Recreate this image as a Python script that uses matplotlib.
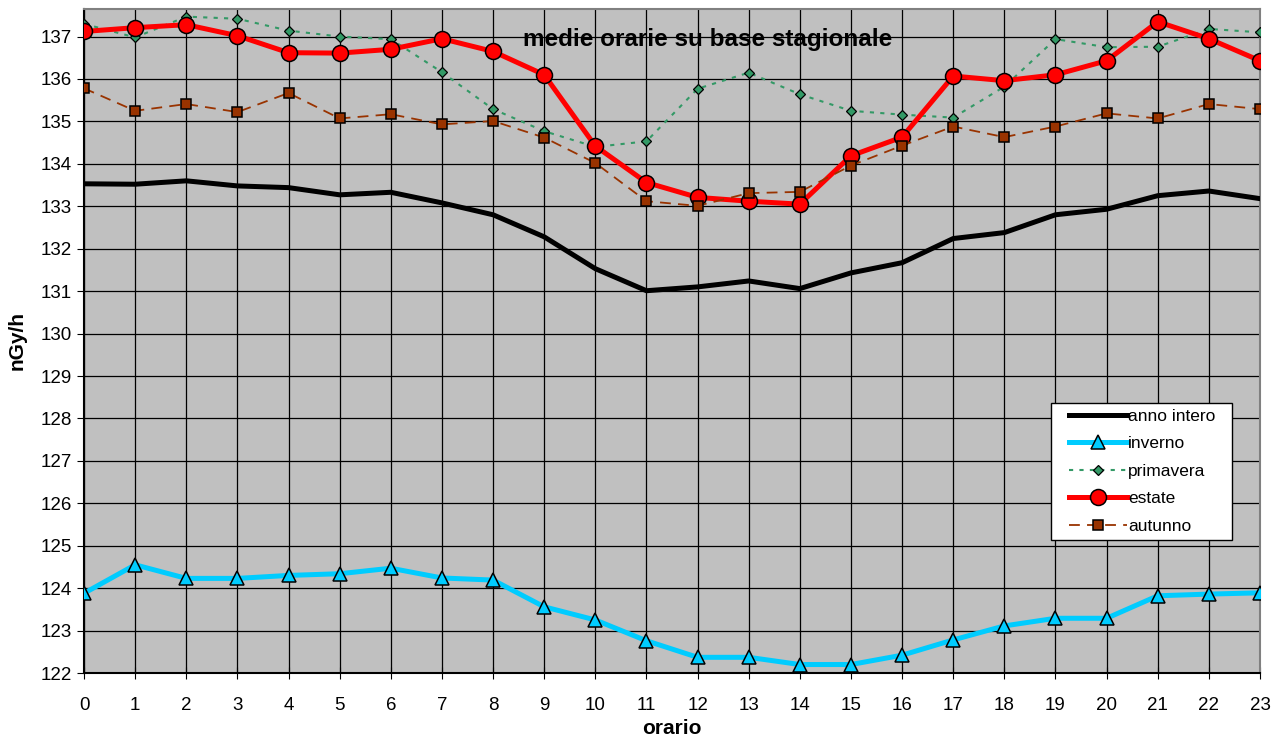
import numpy as np
import matplotlib.pyplot as plt
from matplotlib.legend_handler import HandlerLine2D

plt.rcParams['font.family'] = ['Liberation Sans', 'DejaVu Sans']

# ore del giorno
ore = list(range(24))

anno_intero = [133.53, 133.52, 133.60, 133.48, 133.44, 133.27, 133.33, 133.08, 132.80, 132.28,
               131.53, 131.01, 131.10, 131.24, 131.06, 131.43, 131.67, 132.24, 132.38, 132.80,
               132.93, 133.25, 133.36, 133.18]
inverno = [123.88, 124.55, 124.23, 124.23, 124.30, 124.34, 124.47, 124.24, 124.19, 123.56,
           123.25, 122.76, 122.37, 122.37, 122.20, 122.20, 122.42, 122.78, 123.11, 123.29,
           123.29, 123.82, 123.86, 123.89]
primavera = [137.30, 136.98, 137.47, 137.42, 137.14, 137.00, 136.94, 136.16, 135.29, 134.77,
             134.40, 134.53, 135.77, 136.15, 135.64, 135.25, 135.16, 135.09, 135.82, 136.94,
             136.75, 136.76, 137.18, 137.10]
estate = [137.12, 137.21, 137.28, 137.02, 136.62, 136.61, 136.70, 136.95, 136.65, 136.10,
          134.42, 133.56, 133.21, 133.12, 133.05, 134.19, 134.63, 136.07, 135.96, 136.10,
          136.43, 137.35, 136.95, 136.43]
autunno = [135.78, 135.25, 135.41, 135.22, 135.67, 135.07, 135.17, 134.93, 135.01, 134.62,
           134.02, 133.12, 133.01, 133.31, 133.34, 133.96, 134.43, 134.88, 134.63, 134.88,
           135.19, 135.07, 135.41, 135.29]

y_ticks = list(range(122, 138))

fig = plt.figure(figsize=(12.81, 7.43), dpi=100)
ax = fig.add_axes([0.0656, 0.0942, 0.918, 0.8937])
ax.set_facecolor('#C0C0C0')

ax.plot(ore, anno_intero, color='black', lw=3.6, label='anno intero', zorder=3)
ax.plot(ore, inverno, color='#00CCFF', lw=3.6, marker='^', ms=10.5, mfc='#00CCFF',
        mec='black', mew=1.1, label='inverno', zorder=3)
ax.plot(ore, primavera, color='#339966', lw=1.5, ls=(0, (2, 3)), marker='D', ms=5,
        mfc='#339966', mec='black', mew=0.9, label='primavera', zorder=3)
ax.plot(ore, estate, color='red', lw=3.6, marker='o', ms=11.5, mfc='red',
        mec='black', mew=1.1, label='estate', zorder=3)
ax.plot(ore, autunno, color='#993300', lw=1.3, ls=(0, (6, 4)), marker='s', ms=6.5,
        mfc='#993300', mec='black', mew=1.1, label='autunno', zorder=3)

ax.set_xlim(0, 23)
ax.set_ylim(122, 137.65)
ax.set_xticks(ore)
ax.set_yticks(y_ticks)
ax.grid(True, color='black', lw=0.9, zorder=1)
ax.set_axisbelow(True)
ax.tick_params(axis='both', labelsize=13.5, length=5, color='black')
ax.tick_params(axis='x', direction='inout', length=8, pad=13)
ax.tick_params(axis='y', direction='out', pad=4)

for s in ['top', 'right']:
    ax.spines[s].set_color('#808080')
    ax.spines[s].set_linewidth(1.5)
for s in ['left', 'bottom']:
    ax.spines[s].set_color('black')
    ax.spines[s].set_linewidth(1.5)

ax.set_xlabel('orario', fontsize=15, fontweight='bold', labelpad=4)
ax.set_ylabel('nGy/h', fontsize=15, fontweight='bold', labelpad=10)
ax.text(0.530, 0.972, 'medie orarie su base stagionale', transform=ax.transAxes,
        ha='center', va='top', fontsize=17.5, fontweight='bold')

handles, labels = ax.get_legend_handles_labels()
labels[0] = labels[0] + '  '
leg = ax.legend(handles, labels, loc='upper left', bbox_to_anchor=(0.8205, 0.458),
                bbox_transform=fig.transFigure,
                fontsize=12.5, frameon=True, fancybox=False, handlelength=4.0,
                handletextpad=0.1, borderpad=0.35, labelspacing=0.71, borderaxespad=0,
                handler_map={h: HandlerLine2D(xpad=0.7) for h in handles})
leg.get_frame().set_edgecolor('black')
leg.get_frame().set_linewidth(1.0)
leg.get_frame().set_alpha(1)

fig.savefig('out.png', dpi=100)
